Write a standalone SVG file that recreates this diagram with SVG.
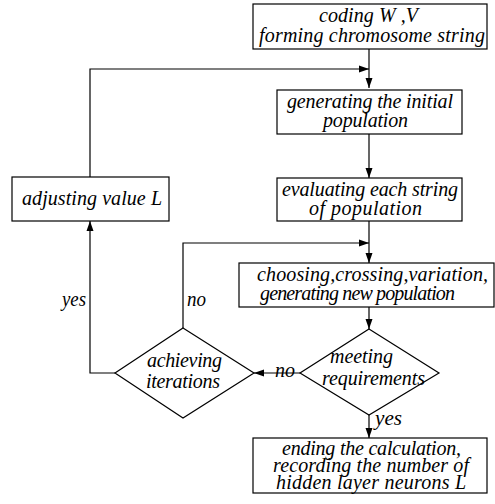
<svg xmlns="http://www.w3.org/2000/svg" width="495" height="504" viewBox="0 0 495 504">
<defs>
<marker id="ah" viewBox="0 0 10 10" refX="10" refY="5" markerWidth="10" markerHeight="10" markerUnits="userSpaceOnUse" orient="auto"><path d="M0,1.5 L10,5 L0,8.5 Z" fill="#000"/></marker>
</defs>
<style>
.b{fill:#fff;stroke:#000;stroke-width:1.2}
.c{fill:none;stroke:#000;stroke-width:1.2}
</style>
<rect width="495" height="504" fill="#fff"/>
<g id="connectors">
<path class="c" d="M369,49 V88" marker-end="url(#ah)"/>
<path class="c" d="M90,177 V69 H369" marker-end="url(#ah)"/>
<path class="c" d="M369,134 V178" marker-end="url(#ah)"/>
<path class="c" d="M369,221 V263" marker-end="url(#ah)"/>
<path class="c" d="M183,328 V243 H369" marker-end="url(#ah)"/>
<path class="c" d="M369,307 V329" marker-end="url(#ah)"/>
<path class="c" d="M300,373 H254" marker-end="url(#ah)"/>
<path class="c" d="M115,373 H90 V221" marker-end="url(#ah)"/>
<path class="c" d="M369,415 V438" marker-end="url(#ah)"/>
</g>
<g id="labels">
<text font-family="Liberation Serif" font-style="italic" font-size="20" style="font-family:'Liberation Serif' !important" x="275" y="377" textLength="20" lengthAdjust="spacingAndGlyphs">no</text>
<text font-family="Liberation Serif" font-style="italic" font-size="20" style="font-family:'Liberation Serif' !important" x="62" y="306" textLength="24" lengthAdjust="spacingAndGlyphs">yes</text>
<text font-family="Liberation Serif" font-style="italic" font-size="20" style="font-family:'Liberation Serif' !important" x="187" y="306" textLength="19" lengthAdjust="spacingAndGlyphs">no</text>
<text font-family="Liberation Serif" font-style="italic" font-size="20" style="font-family:'Liberation Serif' !important" x="375" y="425" textLength="27" lengthAdjust="spacingAndGlyphs">yes</text>
</g>
<g id="coding"><rect class="b" x="253" y="4" width="234" height="45"/>
<text font-family="Liberation Serif" font-style="italic" font-size="20" style="font-family:'Liberation Serif' !important" x="319" y="22" textLength="99" lengthAdjust="spacing">coding W ,V</text>
<text font-family="Liberation Serif" font-style="italic" font-size="20" style="font-family:'Liberation Serif' !important" x="259" y="42" textLength="226" lengthAdjust="spacing">forming chromosome string</text></g>
<g id="generating"><rect class="b" x="277" y="90" width="185" height="44"/>
<text font-family="Liberation Serif" font-style="italic" font-size="20" style="font-family:'Liberation Serif' !important" x="287" y="108" textLength="166" lengthAdjust="spacing">generating the initial</text>
<text font-family="Liberation Serif" font-style="italic" font-size="20" style="font-family:'Liberation Serif' !important" x="323" y="127" textLength="85" lengthAdjust="spacing">population</text></g>
<g id="evaluating"><rect class="b" x="277" y="178" width="185" height="43"/>
<text font-family="Liberation Serif" font-style="italic" font-size="20" style="font-family:'Liberation Serif' !important" x="282" y="196" textLength="176" lengthAdjust="spacing">evaluating each string</text>
<text font-family="Liberation Serif" font-style="italic" font-size="20" style="font-family:'Liberation Serif' !important" x="309" y="215" textLength="113" lengthAdjust="spacing">of  population</text></g>
<g id="adjusting"><rect class="b" x="12" y="177" width="157" height="44"/>
<text font-family="Liberation Serif" font-style="italic" font-size="20" style="font-family:'Liberation Serif' !important" x="22" y="205" textLength="140" lengthAdjust="spacing">adjusting value L</text></g>
<g id="choosing"><rect class="b" x="239" y="263" width="255" height="44"/>
<text font-family="Liberation Serif" font-style="italic" font-size="20" style="font-family:'Liberation Serif' !important" x="257" y="281" textLength="231" lengthAdjust="spacing">choosing,crossing,variation,</text>
<text font-family="Liberation Serif" font-style="italic" font-size="20" style="font-family:'Liberation Serif' !important" x="260" y="300" textLength="195" lengthAdjust="spacing">generating new population</text></g>
<g id="achieving"><polygon class="b" points="183,328 254,373 183,418 115,373"/>
<text font-family="Liberation Serif" font-style="italic" font-size="20" style="font-family:'Liberation Serif' !important" x="147" y="367" textLength="75" lengthAdjust="spacing">achieving</text>
<text font-family="Liberation Serif" font-style="italic" font-size="20" style="font-family:'Liberation Serif' !important" x="146" y="388" textLength="74" lengthAdjust="spacing">iterations</text></g>
<g id="meeting"><polygon class="b" points="369,329 439,373 369,415 300,373"/>
<text font-family="Liberation Serif" font-style="italic" font-size="20" style="font-family:'Liberation Serif' !important" x="330" y="363" textLength="63" lengthAdjust="spacing">meeting</text>
<text font-family="Liberation Serif" font-style="italic" font-size="20" style="font-family:'Liberation Serif' !important" x="322" y="385" textLength="103" lengthAdjust="spacing">requirements</text></g>
<g id="ending"><rect class="b" x="253" y="438" width="234" height="55"/>
<text font-family="Liberation Serif" font-style="italic" font-size="20" style="font-family:'Liberation Serif' !important" x="282" y="455" textLength="179" lengthAdjust="spacing">ending the calculation,</text>
<text font-family="Liberation Serif" font-style="italic" font-size="20" style="font-family:'Liberation Serif' !important" x="273" y="472" textLength="196" lengthAdjust="spacing">recording the number of</text>
<text font-family="Liberation Serif" font-style="italic" font-size="20" style="font-family:'Liberation Serif' !important" x="276" y="489" textLength="190" lengthAdjust="spacing">hidden layer neurons L</text></g>
</svg>
